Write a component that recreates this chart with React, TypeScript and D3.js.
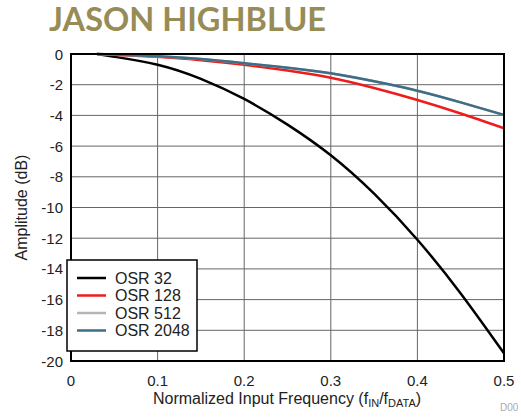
import { useEffect, useRef } from 'react';
import * as d3 from 'd3';

// frequency samples (normalized fIN/fDATA)
const freqs = [0.03, 0.05, 0.1, 0.15, 0.2, 0.25, 0.3, 0.35, 0.4, 0.45, 0.5];

// amplitude in dB
const osr32 = [0, -0.18, -0.7, -1.62, -2.93, -4.6, -6.6, -9.1, -12.1, -15.6, -19.5];
const osr128 = [0, -0.05, -0.18, -0.4, -0.7, -1.08, -1.55, -2.22, -3.0, -3.88, -4.84];
const osr512 = [0, -0.04, -0.15, -0.33, -0.6, -0.9, -1.27, -1.78, -2.4, -3.15, -3.98];
const osr2048 = [0, -0.04, -0.15, -0.33, -0.6, -0.9, -1.26, -1.78, -2.39, -3.15, -3.97];

const seriesNames = ['OSR 32', 'OSR 128', 'OSR 512', 'OSR 2048'];
const seriesColors = ['#000000', '#ee1c1c', '#b4b4b4', '#3e6d86'];
const seriesValues = [osr32, osr128, osr512, osr2048];

const xTicks = [0, 0.1, 0.2, 0.3, 0.4, 0.5];
const yTicks = [0, -2, -4, -6, -8, -10, -12, -14, -16, -18, -20];

export default function App() {
  const svgRef = useRef<SVGSVGElement>(null);

  useEffect(() => {
    if (!svgRef.current) return;
    const svg = d3.select(svgRef.current);
    svg.selectAll('*').remove();

    const left = 71, right = 504, top = 54, bottom = 361;
    const x = d3.scaleLinear().domain([0, 0.5]).range([left, right]);
    const y = d3.scaleLinear().domain([0, -20]).range([top, bottom]);

    svg.append('rect').attr('width', 521).attr('height', 417).attr('fill', '#fff');

    // title
    svg.append('text')
      .attr('x', 49).attr('y', 31)
      .text('JASON HIGHBLUE')
      .style('font-family', 'Lato, "Open Sans", sans-serif')
      .style('font-weight', 'bold')
      .style('font-size', '32.5px')
      .style('fill', '#978b56');

    // grid
    svg.append('g').selectAll('line.v')
      .data(xTicks.slice(1, -1))
      .enter().append('line')
      .attr('x1', d => x(d)).attr('x2', d => x(d))
      .attr('y1', top).attr('y2', bottom)
      .style('stroke', '#666').style('stroke-width', 1);

    svg.append('g').selectAll('line.h')
      .data(yTicks.slice(1, -1))
      .enter().append('line')
      .attr('x1', left).attr('x2', right)
      .attr('y1', d => y(d)).attr('y2', d => y(d))
      .style('stroke', '#666').style('stroke-width', 1);

    // curves
    const line = d3.line<[number, number]>()
      .x(d => x(d[0])).y(d => y(d[1]))
      .curve(d3.curveNatural);

    seriesValues.forEach((vals, i) => {
      svg.append('path')
        .datum(freqs.map((f, j) => [f, vals[j]] as [number, number]))
        .attr('d', line)
        .style('fill', 'none')
        .style('stroke', seriesColors[i])
        .style('stroke-width', 2.5);
    });

    // frame
    svg.append('rect')
      .attr('x', left).attr('y', top)
      .attr('width', right - left).attr('height', bottom - top)
      .style('fill', 'none').style('stroke', '#000').style('stroke-width', 2);

    const font = 'Arimo, "Liberation Sans", Arial, sans-serif';

    // tick labels
    svg.append('g').selectAll('text')
      .data(yTicks)
      .enter().append('text')
      .attr('x', left - 8).attr('y', d => y(d) + 5.5)
      .attr('text-anchor', 'end')
      .text(d => String(d))
      .style('font-family', font).style('font-size', '15px').style('fill', '#222');

    svg.append('g').selectAll('text')
      .data(xTicks)
      .enter().append('text')
      .attr('x', d => x(d)).attr('y', bottom + 25)
      .attr('text-anchor', 'middle')
      .text(d => String(d))
      .style('font-family', font).style('font-size', '15px').style('fill', '#222');

    // axis titles
    const xt = svg.append('text')
      .attr('x', 287).attr('y', 404)
      .attr('text-anchor', 'middle')
      .style('font-family', font).style('font-size', '16px').style('fill', '#222');
    xt.append('tspan').text('Normalized Input Frequency (f');
    xt.append('tspan').text('IN').attr('dy', 3).style('font-size', '11px');
    xt.append('tspan').text('/f').attr('dy', -3);
    xt.append('tspan').text('DATA').attr('dy', 3).style('font-size', '11px');
    xt.append('tspan').text(')').attr('dy', -3);

    svg.append('text')
      .attr('transform', `translate(27,${(top + bottom) / 2}) rotate(-90)`)
      .attr('text-anchor', 'middle')
      .text('Amplitude (dB)')
      .style('font-family', font).style('font-size', '16px').style('fill', '#222');

    svg.append('text')
      .attr('x', 500).attr('y', 411)
      .text('D00')
      .style('font-family', font).style('font-size', '10px').style('fill', '#aaa');

    // legend
    const lg = svg.append('g');
    lg.append('rect')
      .attr('x', 67).attr('y', 260).attr('width', 130).attr('height', 91)
      .style('fill', '#fff').style('stroke', '#000').style('stroke-width', 1.5);
    seriesNames.forEach((name, i) => {
      const ly = 278 + i * 17.5;
      lg.append('line')
        .attr('x1', 77).attr('x2', 106).attr('y1', ly).attr('y2', ly)
        .style('stroke', seriesColors[i]).style('stroke-width', 2.5);
      lg.append('text')
        .attr('x', 115).attr('y', ly + 5.5)
        .text(name)
        .style('font-family', font).style('font-size', '16px').style('fill', '#222');
    });
  }, []);

  return (
    <div style={{ position: 'absolute', left: 0, top: 0 }}>
      <svg ref={svgRef} width={521} height={417} style={{ display: 'block' }} />
    </div>
  );
}
